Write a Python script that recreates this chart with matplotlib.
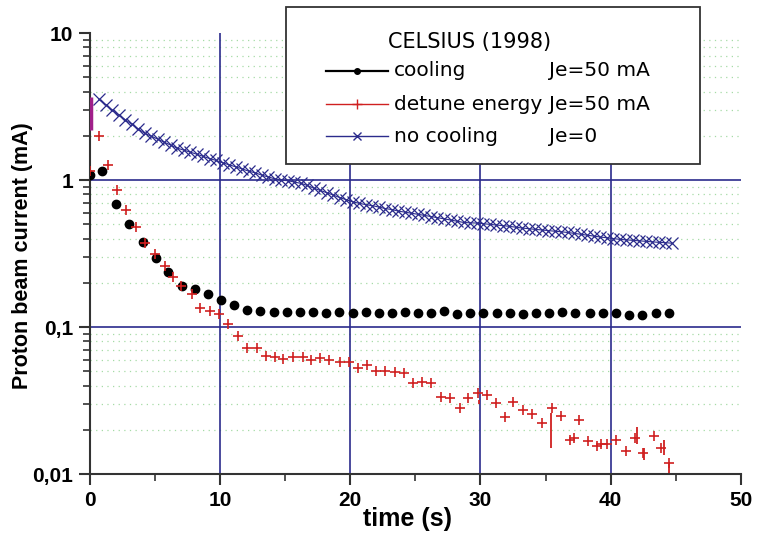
import numpy as np
import matplotlib.pyplot as plt
from matplotlib.lines import Line2D
from matplotlib.patches import Rectangle
from matplotlib.ticker import FixedLocator, NullFormatter

plt.rcParams['font.family'] = ['Liberation Sans', 'DejaVu Sans']

# cooling, Je = 50 mA
t_cool = [0.0, 0.9, 2.0, 3.0, 4.05, 5.07, 6.0, 7.04, 8.06, 9.09, 10.1, 11.1,
          12.1, 13.1, 14.1, 15.1, 16.1, 17.1, 18.1, 19.1, 20.2, 21.2, 22.2,
          23.2, 24.2, 25.2, 26.2, 27.2, 28.2, 29.2, 30.2, 31.3, 32.3, 33.3,
          34.3, 35.3, 36.3, 37.3, 38.4, 39.4, 40.4, 41.4, 42.4, 43.5, 44.5]
i_cool = [1.08, 1.16, 0.69, 0.50, 0.377, 0.296, 0.236, 0.191, 0.181, 0.167,
          0.153, 0.141, 0.131, 0.128, 0.127, 0.127, 0.126, 0.126, 0.125, 0.126,
          0.125, 0.126, 0.125, 0.124, 0.127, 0.125, 0.125, 0.128, 0.123, 0.124,
          0.125, 0.124, 0.125, 0.123, 0.124, 0.124, 0.126, 0.124, 0.124, 0.125,
          0.124, 0.120, 0.121, 0.124, 0.125]

# detune energy, Je = 50 mA
t_detune = [0.0, 0.7, 1.4, 2.1, 2.8, 3.5, 4.2, 5.0, 5.8, 6.4, 7.0, 7.8, 8.45,
            9.2, 9.9, 10.6, 11.4, 12.1, 12.8, 13.5, 14.2, 14.85, 15.6, 16.4,
            17.0, 17.7, 18.4, 19.2, 19.9, 20.6, 21.25, 22.0, 22.7, 23.4, 24.1,
            24.8, 25.5, 26.2, 27.0, 27.65, 28.4, 29.05, 29.8, 30.5, 31.2, 31.9,
            32.5, 33.3, 34.0, 34.7, 35.5, 36.2, 36.9, 37.2, 37.6, 38.3, 38.96,
            39.3, 39.7, 40.4, 41.2, 41.9, 42.5, 43.3, 43.9, 44.5]
i_detune = [1.15, 2.0, 1.27, 0.86, 0.63, 0.48, 0.375, 0.314, 0.261, 0.22, 0.19,
            0.169, 0.134, 0.128, 0.122, 0.105, 0.087, 0.072, 0.072, 0.064,
            0.063, 0.0606, 0.063, 0.063, 0.0596, 0.0613, 0.0596, 0.058, 0.058,
            0.0527, 0.055, 0.050, 0.050, 0.0497, 0.0488, 0.0417, 0.0426, 0.0417,
            0.0333, 0.0328, 0.028, 0.0328, 0.0357, 0.0343, 0.0305, 0.0243,
            0.031, 0.0272, 0.0258, 0.0223, 0.028, 0.0249, 0.017, 0.0176, 0.0233,
            0.0168, 0.0155, 0.016, 0.016, 0.017, 0.0144, 0.0177, 0.0138, 0.0181,
            0.015, 0.0118]
# small vertical strokes in the detune data (t, low, high)
spike_t = [35.4, 29.9, 42.0, 42.6, 44.1, 44.5]
spike_lo = [0.015, 0.030, 0.016, 0.0125, 0.0135, 0.0102]
spike_hi = [0.026, 0.032, 0.021, 0.0150, 0.0170, 0.0118]

# no cooling, Je = 0
t_nocool = np.arange(0.7, 44.75, 0.5)
i_nocool = [3.54, 3.26, 3.00, 2.77, 2.58, 2.40, 2.23, 2.08, 1.99, 1.90, 1.81,
            1.73, 1.65, 1.60, 1.55, 1.50, 1.45, 1.40, 1.36, 1.31, 1.27, 1.23,
            1.19, 1.15, 1.12, 1.08, 1.05, 1.02, 1.00, 0.99, 0.97, 0.95, 0.92,
            0.88, 0.85, 0.82, 0.79, 0.76, 0.735, 0.71, 0.695, 0.68, 0.67, 0.655,
            0.64, 0.63, 0.615, 0.605, 0.595, 0.585, 0.575, 0.565, 0.555, 0.545,
            0.535, 0.525, 0.515, 0.512, 0.51, 0.505, 0.50, 0.495, 0.49, 0.485,
            0.478, 0.472, 0.467, 0.462, 0.458, 0.453, 0.449, 0.445, 0.44, 0.434,
            0.428, 0.422, 0.416, 0.41, 0.405, 0.40, 0.395, 0.392, 0.389, 0.386,
            0.383, 0.38, 0.377, 0.375, 0.372]

blue = '#2b2b8c'
red = '#d02020'
green = '#a6dba6'

fig = plt.figure(figsize=(7.66, 5.41), dpi=100)
ax = fig.add_axes([0.1175, 0.1238, 0.8495, 0.815])

ax.set_yscale('log')
ax.set_xlim(0, 50)
ax.set_ylim(0.01, 10)

# minor dotted green grid lines
minor_y = [m * 10.0 ** e for e in (-2, -1, 0) for m in range(2, 10)]
for y in minor_y:
    ax.axhline(y, color=green, lw=0.9, ls=(0, (1, 3.5)), zorder=0)
# major blue grid
for x in (10, 20, 30, 40):
    ax.axvline(x, color=blue, lw=1.2, zorder=1)
for y in (0.1, 1):
    ax.axhline(y, color=blue, lw=1.2, zorder=1)

ax.plot(t_nocool, i_nocool, color=blue, lw=0.8, marker='x', ms=8.5,
        mew=0.9, zorder=3)
ax.plot(t_cool, i_cool, ls='none', marker='o', ms=6, color='black', zorder=4)
ax.plot(t_detune, i_detune, ls='none', marker='+', ms=7, mew=1.2,
        color=red, zorder=5)
ax.vlines(spike_t, spike_lo, spike_hi, color=red, lw=1.3, zorder=5)
ax.vlines([0.05], [2.2], [3.7], color='#a0208a', lw=2.5, zorder=5)

for s in ('top', 'right'):
    ax.spines[s].set_visible(False)
for s in ('left', 'bottom'):
    ax.spines[s].set_color('#333333')
    ax.spines[s].set_linewidth(1.5)

ax.set_xticks([0, 10, 20, 30, 40, 50])
ax.xaxis.set_minor_locator(FixedLocator([5, 15, 25, 35, 45]))
ax.set_yticks([0.01, 0.1, 1, 10])
ax.set_yticklabels(['0,01', '0,1', '1', '10'])
ax.yaxis.set_minor_locator(FixedLocator(minor_y))
ax.yaxis.set_minor_formatter(NullFormatter())
ax.tick_params(which='major', length=8, width=1.5, color='#333333',
               labelsize=15, pad=4)
ax.tick_params(which='minor', length=5, width=1.2, color='#333333')
for lab in ax.get_xticklabels() + ax.get_yticklabels():
    lab.set_fontweight('bold')

ax.set_xlabel('time (s)', fontsize=18, fontweight='bold', labelpad=-1)
ax.xaxis.set_label_coords(0.488, -0.075)
ax.set_ylabel('Proton beam current (mA)', fontsize=15.5, fontweight='bold')
ax.yaxis.set_label_coords(-0.088, 0.495)

# legend box drawn by hand
W, H = 766, 541


def fx(px):
    return px / W


def fy(py):
    return 1 - py / H


leg_font = ['DejaVu Sans']
fig.patches.append(Rectangle((fx(286), fy(164)), fx(414), 157 / H,
                             transform=fig.transFigure, facecolor='white',
                             edgecolor='#333333', lw=1.3, zorder=10))
fig.text(fx(388), fy(42), 'CELSIUS (1998)', fontsize=15, va='center',
         family=leg_font, zorder=11)
rows = [(71, 'black', 'o', 4, 'cooling', 'Je=50 mA'),
        (104, red, '+', 7, 'detune energy', 'Je=50 mA'),
        (136, blue, 'x', 6, 'no cooling', 'Je=0')]
for py, col, mk, ms, name, je in rows:
    fig.add_artist(Line2D([fx(326), fx(388)], [fy(py), fy(py)],
                          transform=fig.transFigure, color=col,
                          lw=1.6 if col == 'black' else 1.0,
                          zorder=11))
    fig.add_artist(Line2D([fx(357)], [fy(py)], transform=fig.transFigure,
                          color=col, marker=mk, ms=ms, mew=1.0, ls='none',
                          zorder=11))
    fig.text(fx(394), fy(py), name, fontsize=14.5, va='center',
             family=leg_font, zorder=11)
    fig.text(fx(549), fy(py), je, fontsize=14.5, va='center',
             family=leg_font, zorder=11)

plt.savefig('out.png', dpi=100)
plt.close()
